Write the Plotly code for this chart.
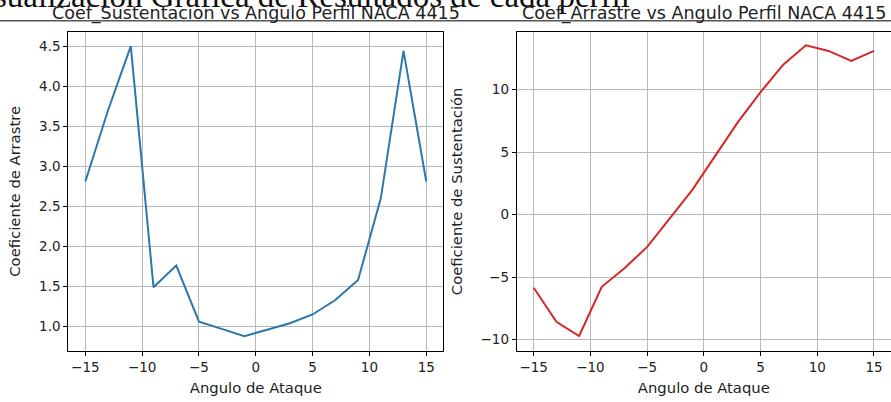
import plotly.graph_objects as go

# ---- data ----
angulos = [-15, -13, -11, -9, -7, -5, -3, -1, 1, 3, 5, 7, 9, 11, 13, 15]
coef_arrastre = [2.81, 3.70, 4.50, 1.49, 1.76, 1.06, 0.97, 0.88, 0.96, 1.04, 1.15, 1.33, 1.58, 2.60, 4.44, 2.81]
coef_sustentacion = [-5.86, -8.58, -9.72, -5.78, -4.30, -2.59, -0.30, 2.00, 4.70, 7.40, 9.80, 12.00, 13.55, 13.10, 12.30, 13.10]

suptitle = "Visualización Gráfica de Resultados de cada perfil"
title_left = "Coef_Sustentacion vs Angulo Perfil NACA 4415"
title_right = "Coef_Arrastre vs Angulo Perfil NACA 4415"
xlabel = "Angulo de Ataque"
ylabel_left = "Coeficiente de Arrastre"
ylabel_right = "Coeficiente de Sustentación"

W, H = 891, 402
FONT = "DejaVu Sans"
TXT = "#222222"
GRID = "#b8b8b8"

def px(x):
    return x / W

def py(y):
    return 1 - y / H

fig = go.Figure()
fig.add_trace(go.Scatter(x=angulos, y=coef_arrastre, mode="lines",
                         line=dict(color="#2a78ad", width=2),
                         xaxis="x", yaxis="y", showlegend=False))
fig.add_trace(go.Scatter(x=angulos, y=coef_sustentacion, mode="lines",
                         line=dict(color="#d62728", width=2),
                         xaxis="x2", yaxis="y2", showlegend=False))

common = dict(showgrid=True, gridcolor=GRID, gridwidth=1, zeroline=False,
              showline=True, linecolor="black", linewidth=1,
              ticks="outside", ticklen=4, tickcolor="black", tickwidth=1,
              tickfont=dict(family=FONT, size=13.5, color=TXT),
              automargin=False)

fig.update_layout(
    width=W, height=H, autosize=False,
    margin=dict(l=0, r=0, t=0, b=0),
    paper_bgcolor="white", plot_bgcolor="white",
    xaxis=dict(domain=[px(68.3), px(443.3)], range=[-16.5, 16.5], dtick=5, tick0=0,
               mirror=True, anchor="y",
               title=dict(text=xlabel, font=dict(family=FONT, size=14.8, color=TXT), standoff=8),
               **common),
    yaxis=dict(domain=[py(351), py(31.7)], range=[0.694, 4.68], dtick=0.5, tick0=0,
               tickformat=".1f", mirror=True, anchor="x",
               title=dict(text=ylabel_left, font=dict(family=FONT, size=14.8, color=TXT), standoff=14),
               **common),
    xaxis2=dict(domain=[px(516.7), 1.0], range=[-16.5, 16.5], dtick=5, tick0=0,
                mirror=True, anchor="y2",
                title=dict(text=xlabel, font=dict(family=FONT, size=14.8, color=TXT), standoff=8),
                **common),
    yaxis2=dict(domain=[py(351), py(31.7)], range=[-10.92, 14.64], dtick=5, tick0=0,
                mirror=False, anchor="x2",
                title=dict(text=ylabel_right, font=dict(family=FONT, size=14.8, color=TXT), standoff=14),
                **common),
)

fig.add_annotation(text=suptitle, xref="paper", yref="paper",
                   x=px(632), y=py(15.8), xanchor="right", yanchor="bottom",
                   showarrow=False,
                   font=dict(family="Liberation Serif", size=33, color="#111111"))
fig.add_annotation(text=title_left, xref="paper", yref="paper",
                   x=px(255.5), y=py(25.6), xanchor="center", yanchor="bottom",
                   showarrow=False, font=dict(family=FONT, size=17.5, color=TXT))
fig.add_annotation(text=title_right, xref="paper", yref="paper",
                   x=px(703.5), y=py(25.6), xanchor="center", yanchor="bottom",
                   showarrow=False, font=dict(family=FONT, size=17.5, color=TXT))

fig.add_shape(type="line", xref="paper", yref="paper",
              x0=0, x1=1, y0=py(20.7), y1=py(20.7),
              line=dict(color="#555555", width=1.5), layer="above")

fig.write_html("out.html",
               config={"displayModeBar": False},
               post_script="document.body.style.margin='0';document.body.style.overflow='hidden';")
